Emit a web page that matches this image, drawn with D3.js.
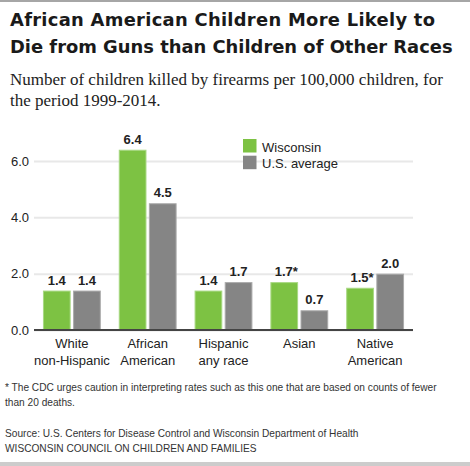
<!DOCTYPE html>
<html>
<head>
<meta charset="utf-8">
<script src="https://cdn.jsdelivr.net/npm/d3@7"></script>
<style>
  body { margin: 0; background: #fff; }
  svg { display: block; }
</style>
</head>
<body>
<svg width="470" height="466"></svg>
<script>
// data
var groups = ["White non-Hispanic", "African American", "Hispanic any race", "Asian", "Native American"];
var groupLines = [["White", "non-Hispanic"], ["African", "American"], ["Hispanic", "any race"], ["Asian"], ["Native", "American"]];
var seriesNames = ["Wisconsin", "U.S. average"];
var wisconsin = [1.4, 6.4, 1.4, 1.7, 1.5];
var usAverage = [1.4, 4.5, 1.7, 0.7, 2.0];
var starred = [false, false, false, true, true]; // Wisconsin values flagged with *
var yTicks = [0, 2, 4, 6];

var colors = ["#7dc243", "#858585"];
var strokes = ["#a8d883", "#aaaaaa"];

var svg = d3.select("svg"),
  width = +svg.attr("width"),
  height = +svg.attr("height");

// top and bottom rules
svg.append("rect").attr("x", 0).attr("y", 0).attr("width", width).attr("height", 2).attr("fill", "#a6a6a6");
svg.append("rect").attr("x", 0).attr("y", height - 4).attr("width", width).attr("height", 4).attr("fill", "#cccccc");

// title, fitted to the width of the reference lines
var title = svg.append("g")
  .attr("font-family", "'Century Gothic', 'URW Gothic', 'DejaVu Sans', sans-serif")
  .attr("font-weight", "bold")
  .attr("fill", "#1a1a1a");
var t1 = title.append("text").attr("x", 10).attr("y", 26).text("African American Children More Likely to");
var t2 = title.append("text").attr("x", 10).attr("y", 53).text("Die from Guns than Children of Other Races");
title.attr("font-size", 20);
var fs = 20 * 443 / t2.node().getComputedTextLength();
title.attr("font-size", fs);
t1.attr("textLength", 425).attr("lengthAdjust", "spacing");

var sub = svg.append("g")
  .attr("font-family", "'Liberation Serif', 'Times New Roman', serif")
  .attr("font-size", 17)
  .attr("fill", "#222");
sub.append("text").attr("x", 10).attr("y", 85).text("Number of children killed by firearms per 100,000 children, for");
sub.append("text").attr("x", 10).attr("y", 106).text("the period 1999-2014.");

// scales
var y = d3.scaleLinear().domain([0, 6]).range([330, 161]);

var x0 = d3.scaleBand()
  .domain(groups)
  .range([34, 413])
  .paddingInner(0.237)
  .paddingOuter(0.118);

var x1 = d3.scaleBand()
  .domain(seriesNames)
  .range([0, x0.bandwidth()])
  .paddingInner(0.08);

// gridlines and y labels
var yAxis = d3.axisLeft(y)
  .tickValues(yTicks)
  .tickSize(-(413 - 34))
  .tickPadding(5)
  .tickFormat(d3.format(".1f"));

var ga = svg.append("g")
  .attr("transform", "translate(34,0)")
  .call(yAxis);
ga.select(".domain").remove();
ga.selectAll(".tick line").attr("stroke", "#e8e8e8").attr("stroke-width", 2);
ga.selectAll(".tick text")
  .attr("font-family", "'Liberation Sans', Arial, sans-serif")
  .attr("font-size", 13)
  .attr("fill", "#222");

// bars
var table = groups.map(function(g, i) {
  return {
    group: g,
    values: [
      {series: seriesNames[0], value: wisconsin[i], star: starred[i], idx: 0},
      {series: seriesNames[1], value: usAverage[i], star: false, idx: 1}
    ]
  };
});

var gg = svg.selectAll(".group")
  .data(table)
  .enter().append("g")
  .attr("class", "group")
  .attr("transform", function(d) { return "translate(" + x0(d.group) + ",0)"; });

gg.selectAll("rect")
  .data(function(d) { return d.values; })
  .enter().append("rect")
  .attr("x", function(d) { return x1(d.series) + 0.5; })
  .attr("y", function(d) { return y(d.value) + 0.5; })
  .attr("width", x1.bandwidth() - 1)
  .attr("height", function(d) { return y(0) - y(d.value) - 0.5; })
  .attr("fill", function(d) { return colors[d.idx]; })
  .attr("stroke", function(d) { return strokes[d.idx]; })
  .attr("stroke-width", 1);

gg.selectAll(".val")
  .data(function(d) { return d.values; })
  .enter().append("text")
  .attr("class", "val")
  .attr("x", function(d) { return x1(d.series) + x1.bandwidth() / 2 + (d.star ? 2 : 0); })
  .attr("y", function(d) { return y(d.value) - 6; })
  .attr("text-anchor", "middle")
  .attr("font-family", "'Liberation Sans', Arial, sans-serif")
  .attr("font-weight", "bold")
  .attr("font-size", 13)
  .attr("fill", "#222")
  .text(function(d) { return d3.format(".1f")(d.value) + (d.star ? "*" : ""); });

// baseline
svg.append("line")
  .attr("x1", 34).attr("x2", 413)
  .attr("y1", y(0)).attr("y2", y(0))
  .attr("stroke", "#444").attr("stroke-width", 2);

// category labels
gg.each(function(d, i) {
  var t = d3.select(this).append("text")
    .attr("text-anchor", "middle")
    .attr("font-family", "'Liberation Sans', Arial, sans-serif")
    .attr("font-size", 13)
    .attr("fill", "#222");
  groupLines[i].forEach(function(line, j) {
    t.append("tspan")
      .attr("x", x0.bandwidth() / 2)
      .attr("y", 348 + j * 17)
      .text(line);
  });
});

// legend
var legend = svg.append("g").attr("transform", "translate(243,139)");
seriesNames.forEach(function(s, i) {
  legend.append("rect")
    .attr("x", 0).attr("y", i * 16.7)
    .attr("width", 13.5).attr("height", 13.5)
    .attr("fill", colors[i]);
  legend.append("text")
    .attr("x", 19).attr("y", i * 16.7 + 12.5)
    .attr("font-family", "'Liberation Sans', Arial, sans-serif")
    .attr("font-size", 13)
    .attr("fill", "#222")
    .text(s);
});

// notes, sized so the long line fits the width it has in the reference
var notes = svg.append("g")
  .attr("font-family", "'Liberation Sans', Arial, sans-serif")
  .attr("font-size", 11)
  .attr("fill", "#333");
var noteLines = [
  ["* The CDC urges caution in interpreting rates such as this one that are based on counts of fewer", 391],
  ["than 20 deaths.", 406],
  ["Source: U.S. Centers for Disease Control and Wisconsin Department of Health", 437],
  ["WISCONSIN COUNCIL ON CHILDREN AND FAMILIES", 452]
];
var nt = notes.selectAll("text")
  .data(noteLines)
  .enter().append("text")
  .attr("x", 5)
  .attr("y", function(d) { return d[1]; })
  .text(function(d) { return d[0]; });
var noteSize = 11 * 432 / nt.nodes()[0].getComputedTextLength();
notes.attr("font-size", noteSize);
</script>
</body>
</html>
